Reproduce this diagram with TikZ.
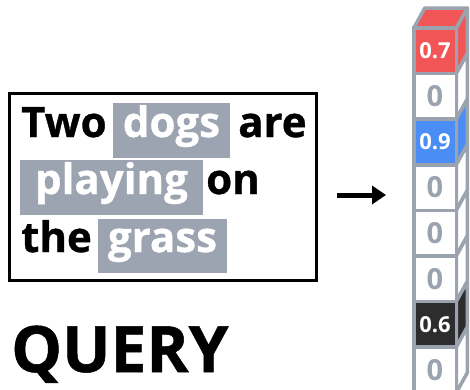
\documentclass[tikz,border=0pt]{standalone}
\usepackage{fontspec}
\setmainfont{Open Sans}
\newfontfamily\heavy{Open Sans}[BoldFeatures={FakeBold=0.8}]
\usetikzlibrary{arrows.meta}
\definecolor{hlgray}{HTML}{9BA4B0}
\definecolor{bordgray}{HTML}{9AA3AE}
\definecolor{cred}{HTML}{F25556}
\definecolor{cblue}{HTML}{4A8DF5}
\definecolor{cdark}{HTML}{2D2D2D}
\begin{document}
\begin{tikzpicture}[x=1pt,y=-1pt,
  word/.style={anchor=base,inner sep=0pt,font=\fontsize{42}{42}\selectfont\heavy\bfseries},
  hl/.style={fill=hlgray,inner sep=0pt},
  cell/.style={draw=bordgray,line width=3.5pt,minimum width=42.5pt,minimum height=45.6pt,inner sep=0pt},
  zero/.style={text=bordgray,font=\fontsize{29}{29}\selectfont\bfseries},
  num/.style={text=white,font=\fontsize{22}{22}\selectfont\bfseries},
  face/.style={draw=bordgray,line width=3.5pt,line join=round}]
\clip (0,0) rectangle (470,389);
% query box
\node[draw=black,line width=3pt,minimum width=307pt,minimum height=187pt,inner sep=0pt] (qbox) at (163,187) {};
% highlights
\node[hl,minimum width=117pt,minimum height=55pt] (hdogs) at (171.5,130.5) {};
\node[hl,minimum width=183pt,minimum height=55pt] (hplay) at (111.5,187.5) {};
\node[hl,minimum width=129pt,minimum height=54pt] (hgrass) at (162.5,246) {};
% words
\node[word,anchor=base west] (wtwo) at (21,137) {Two};
\node[word,text=white] (wdogs) at (171.5,137) {dogs};
\node[word,anchor=base west] (ware) at (238,137) {are};
\node[word,text=white] (wplay) at (111.5,194) {playing};
\node[word,anchor=base west] (won) at (206,194) {on};
\node[word,anchor=base west] (wthe) at (21,252) {the};
\node[word,text=white] (wgrass) at (162.5,252) {grass};
\node[anchor=base west,inner sep=0pt,font=\fontsize{64}{64}\selectfont\heavy\bfseries] (query) at (11,372) {QUERY};
% arrow
\coordinate (as) at (337,195);
\coordinate (ae) at (386,195);
\draw[line width=5pt,-{Triangle[length=14pt,width=18pt]}] (as) -- (ae);
% vector cells
\foreach \i/\col in {0/cred,1/white,2/cblue,3/white,4/white,5/white,6/cdark,7/white}{
  \coordinate (c\i) at (435,{28+45.6*(\i+0.5)});
  \path[face,fill=\col] ([shift={(21.25,-22.8)}]c\i) -- ++(11,-20) -- ++(0,45.6) -- ++(-11,20) -- cycle;
}
\path[face,fill=cred] ([shift={(-21.25,-22.8)}]c0) -- ++(11,-20) -- ++(42.5,0) -- ++(-11,20) -- cycle;
\node[cell,fill=cred] (v0) at (c0) {};
\node[cell,fill=white] (v1) at (c1) {};
\node[cell,fill=cblue] (v2) at (c2) {};
\node[cell,fill=white] (v3) at (c3) {};
\node[cell,fill=white] (v4) at (c4) {};
\node[cell,fill=white] (v5) at (c5) {};
\node[cell,fill=cdark] (v6) at (c6) {};
\node[cell,fill=white] (v7) at (c7) {};
\node[num] (t0) at (v0) {0.7};
\node[zero] (t1) at (v1) {0};
\node[num] (t2) at (v2) {0.9};
\node[zero] (t3) at (v3) {0};
\node[zero] (t4) at (v4) {0};
\node[zero] (t5) at (v5) {0};
\node[num] (t6) at (v6) {0.6};
\node[zero] (t7) at (v7) {0};
\end{tikzpicture}
\end{document}
